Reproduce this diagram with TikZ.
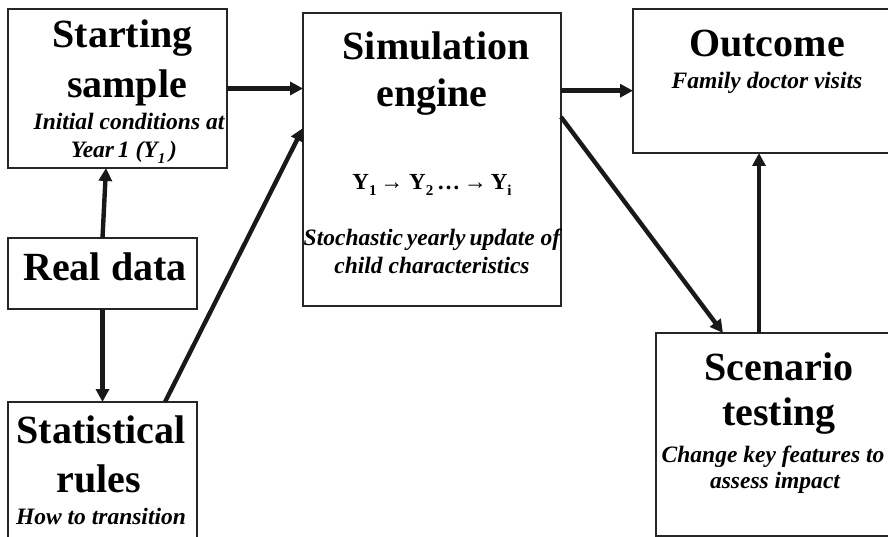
\documentclass[tikz,border=0pt]{standalone}
\usepackage{fontspec}
\setmainfont{Liberation Serif}
\usetikzlibrary{arrows.meta}
\newcommand{\lowsub}[1]{\raisebox{-6pt}{\fontsize{15}{15}\selectfont #1}}
\tikzset{
  box/.style={draw=black!85, line width=1.6pt, inner sep=0pt, outer sep=0pt},
  ttl/.style={anchor=base, inner sep=0pt, font=\fontsize{40}{40}\selectfont\bfseries},
  subt/.style={anchor=base, inner sep=0pt, font=\fontsize{23.5}{23.5}\selectfont\bfseries\itshape},
  formula/.style={anchor=base, inner sep=0pt, font=\fontsize{23}{23}\selectfont\bfseries},
  arr/.style={line width=4.4pt, draw=black!90, -{Triangle[length=13pt,width=13pt]}},
}
\begin{document}
\begin{tikzpicture}[x=1pt,y=-1pt]
\path[use as bounding box, clip] (0,0) rectangle (888,537);
\fill[white] (0,0) rectangle (888,537);

% boxes
\node[box, minimum width=219pt, minimum height=159pt] (start) at (117.5,88.5) {};
\node[box, minimum width=189pt, minimum height=71pt]  (real)  at (102.5,273.5) {};
\node[box, minimum width=189pt, minimum height=143pt] (stat)  at (102.5,473.5) {};
\node[box, minimum width=258pt, minimum height=293pt] (sim)   at (432,159.5) {};
\node[box, minimum width=267pt, minimum height=144pt] (out)   at (766.5,81) {};
\node[box, minimum width=242pt, minimum height=203pt] (scen)  at (777,434.5) {};

% texts: starting sample
\node[ttl]  (t1a) at (122.5,48) {Starting};
\node[ttl]  (t1b) at (127,98) {sample};
\node[subt] (t1c) at (129,130) {Initial conditions at};
\node[subt] (t1d) at (124,158) {Year\,1 (Y\lowsub{\itshape 1}\,)};

% real data
\node[ttl] (t2a) at (105,280) {Real data};

% statistical rules
\node[ttl]  (t3a) at (101,443) {Statistical};
\node[ttl]  (t3b) at (98.5,492) {rules};
\node[subt] (t3c) at (101,524) {How to transition};

% simulation engine
\node[ttl]  (t4a) at (436,60) {Simulation};
\node[ttl]  (t4b) at (432,107) {engine};
\node[formula] (t4c) at (432,190) {Y\lowsub{1}\,→\ Y\lowsub{2}\,…\,→\,Y\lowsub{i}};
\node[subt] (t4d) at (432,246) {Stochastic\,yearly\,update of};
\node[subt] (t4e) at (432,273) {child characteristics};

% outcome
\node[ttl]  (t5a) at (767,57) {Outcome};
\node[subt] (t5b) at (767,89) {Family doctor visits};

% scenario testing
\node[ttl]  (t6a) at (779,380) {Scenario};
\node[ttl]  (t6b) at (779,425) {testing};
\node[subt] (t6c) at (773,462) {Change key features to};
\node[subt] (t6d) at (775,488) {assess impact};

% connector end points
\coordinate (sbot) at ([xshift=-11.5pt]start.south);
\coordinate (stop) at ([xshift=62.5pt]stat.north);
\coordinate (simin) at ([yshift=-115pt]sim.north west);
\coordinate (simo1) at ([yshift=-77.7pt]sim.north east);
\coordinate (simo2) at ([yshift=-104pt]sim.north east);
\coordinate (scin) at ([xshift=-54pt]scen.north);
\coordinate (scout) at ([xshift=-18pt]scen.north);

% connectors
\draw[arr] (start.east) -- (start.east -| sim.west);
\draw[arr] (simo1) -- (simo1 -| out.west);
\draw[arr] (real.north) -- (sbot);
\draw[arr] (real.south) -- (stat.north);
\draw[arr] (stop) -- (simin);
\draw[arr] (simo2) -- (scin);
\draw[arr] (scout) -- (scout |- out.south);
\end{tikzpicture}
\end{document}
